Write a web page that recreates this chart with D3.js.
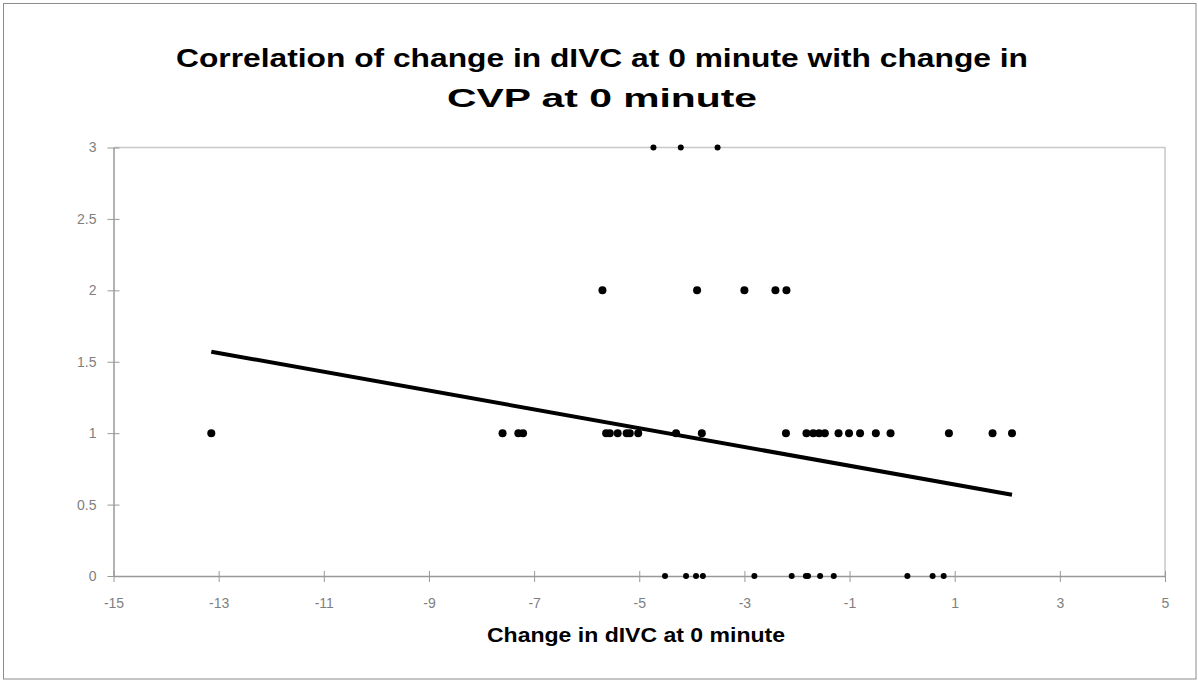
<!DOCTYPE html>
<html lang="en">
  <head>
    <meta charset="utf-8" />
    <title>dIVC vs CVP</title>
    <script src="https://d3js.org/d3.v7.min.js"></script>
    <style>
      body {
        margin: 0;
        background: #fff;
        font-family: "Liberation Sans", Arial, sans-serif;
      }
      .tick text {
        fill: #7f7f7f;
        font-size: 14px;
        font-family: "Liberation Sans", sans-serif;
      }
    </style>
  </head>
  <body>
    <div id="chart"></div>
    <script>
      // data
      const cvp3 = [-4.73, -4.21, -3.51];
      const cvp2 = [-5.7, -3.9, -3.0, -2.41, -2.2];
      const cvp1 = [
        -13.14, -7.6, -7.3, -7.21, -5.63, -5.56, -5.41, -5.24, -5.18, -5.02,
        -4.3, -3.81, -2.21, -1.82, -1.69, -1.58, -1.47, -1.21, -1.01, -0.8,
        -0.5, -0.22, 0.89, 1.72, 2.09,
      ];
      const cvp0 = [
        -4.51, -4.11, -3.92, -3.79, -2.81, -2.1, -1.83, -1.79, -1.56, -1.3,
        0.1, 0.58, 0.79,
      ];
      const xTicks = [-15, -13, -11, -9, -7, -5, -3, -1, 1, 3, 5];
      const yTicks = [0, 0.5, 1, 1.5, 2, 2.5, 3];
      // linear trend line
      const trendSlope = -0.0658;
      const trendIntercept = 0.706;

      const titleLines = [
        "Correlation of change in dIVC at 0 minute with change in",
        "CVP at 0 minute",
      ];
      const xTitle = "Change in dIVC at 0 minute";

      const points = [];
      [[cvp0, 0], [cvp1, 1], [cvp2, 2], [cvp3, 3]].forEach(([xs, y]) => {
        xs.forEach((x) => points.push({ x: x, y: y }));
      });

      const width = 1198;
      const height = 681;
      const margin = { left: 113.5, right: 33, top: 147.5, bottom: 105 };

      const svg = d3
        .select("#chart")
        .append("svg")
        .attr("width", width)
        .attr("height", height);

      // outer chart border
      svg
        .append("rect")
        .attr("x", 3.5)
        .attr("y", 3.5)
        .attr("width", 1192.5)
        .attr("height", 675.5)
        .attr("fill", "#fff")
        .attr("stroke", "#8c8c8c");

      const x = d3
        .scaleLinear()
        .domain([-15, 5])
        .range([margin.left, width - margin.right]);
      const y = d3
        .scaleLinear()
        .domain([0, 3])
        .range([height - margin.bottom, margin.top]);

      // plot area border (top/right)
      svg
        .append("path")
        .attr("d", `M${x(-15)},${y(3)}H${x(5)}V${y(0)}`)
        .attr("fill", "none")
        .attr("stroke", "#c8c8c8")
        .attr("stroke-width", 1.5);

      const xAxis = svg
        .append("g")
        .attr("transform", `translate(0,${y(0)})`)
        .call(
          d3
            .axisBottom(x)
            .tickValues(xTicks)
            .tickFormat((d) => String(d))
            .tickSizeInner(6)
            .tickSizeOuter(0)
        );
      xAxis.selectAll(".tick line").attr("y1", -5).attr("stroke", "#999");
      xAxis.select(".domain").attr("stroke", "#999").attr("stroke-width", 1.5);
      xAxis.selectAll(".tick text").attr("y", 32).attr("dy", null);

      const yAxis = svg
        .append("g")
        .attr("transform", `translate(${x(-15)},0)`)
        .call(
          d3
            .axisLeft(y)
            .tickValues(yTicks)
            .tickFormat((d) => String(d))
            .tickSizeInner(6)
            .tickSizeOuter(0)
        );
      yAxis.selectAll(".tick line").attr("x1", 6).attr("x2", -6).attr("stroke", "#999");
      yAxis.select(".domain").attr("stroke", "#999").attr("stroke-width", 1.5);
      yAxis.selectAll(".tick text").attr("x", -17);

      // trend line
      const xMin = d3.min(points, (d) => d.x);
      const xMax = d3.max(points, (d) => d.x);
      svg
        .append("line")
        .attr("x1", x(xMin))
        .attr("y1", y(trendIntercept + trendSlope * xMin))
        .attr("x2", x(xMax))
        .attr("y2", y(trendIntercept + trendSlope * xMax))
        .attr("stroke", "#000")
        .attr("stroke-width", 4);

      // points
      svg
        .append("g")
        .selectAll("circle")
        .data(points)
        .join("circle")
        .attr("cx", (d) => x(d.x))
        .attr("cy", (d) => y(d.y))
        .attr("r", (d) => (d.y === 0 || d.y === 3 ? 3 : 4))
        .attr("fill", "#000");

      // title
      svg
        .selectAll(".title")
        .data(titleLines)
        .join("text")
        .attr("class", "title")
        .attr("x", 602)
        .attr("y", (d, i) => 67 + i * 40)
        .attr("text-anchor", "middle")
        .attr("font-size", 26)
        .attr("font-weight", "bold")
        .attr("textLength", (d, i) => (i === 0 ? 852 : 310))
        .attr("lengthAdjust", "spacingAndGlyphs")
        .attr("fill", "#000")
        .text((d) => d);

      svg
        .append("text")
        .attr("x", 636)
        .attr("y", 642)
        .attr("text-anchor", "middle")
        .attr("font-size", 20)
        .attr("font-weight", "bold")
        .attr("textLength", 298)
        .attr("lengthAdjust", "spacingAndGlyphs")
        .text(xTitle);
    </script>
  </body>
</html>
